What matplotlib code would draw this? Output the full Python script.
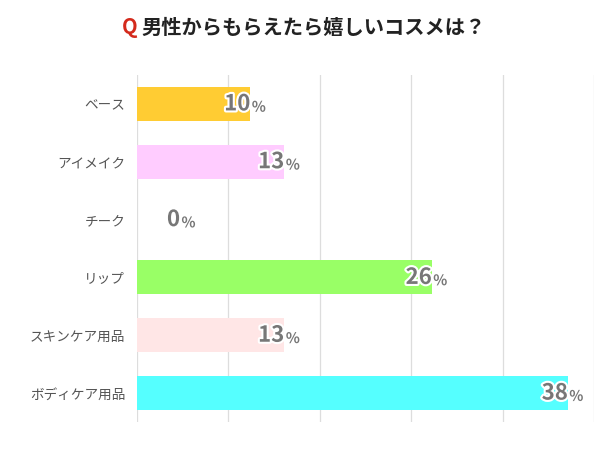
import matplotlib
matplotlib.use("Agg")
import matplotlib.pyplot as plt
import matplotlib.patheffects as pe

plt.rcParams["font.family"] = ["Noto Sans CJK JP", "DejaVu Sans"]

TITLE = "男性からもらえたら嬉しいコスメは？"
categories = ["ベース", "アイメイク", "チーク", "リップ", "スキンケア用品", "ボディケア用品"]
values = [10, 13, 0, 26, 13, 38]
colors = ["#ffcc33", "#ffccff", "#ffccff", "#99ff66", "#ffe6e6", "#55ffff"]

fig = plt.figure(figsize=(6.15, 4.62), dpi=100)
ax = fig.add_axes([137 / 615, 40 / 462, 457 / 615, 347 / 462])

y = range(len(categories))
ax.barh(y, values, height=0.59, color=colors, zorder=2)
ax.set_ylim(5.5, -0.5)
ax.set_xlim(0, 40.3)
ax.set_xticks([0, 8.06, 16.12, 24.18, 32.24, 40.3])
ax.xaxis.grid(True, color="#dddddd", linewidth=0.9, zorder=0)
ax.tick_params(axis="x", length=0, labelbottom=False)
ax.tick_params(axis="y", length=0, pad=8.5)
ax.set_yticks(list(y))
ax.set_yticklabels(categories, fontsize=9.8, color="#555555")
for s in ax.spines.values():
    s.set_visible(False)

stroke = [pe.withStroke(linewidth=3, foreground="white")]
for i, v in enumerate(values):
    xpos = max(v, 3.8)
    ax.annotate(str(v), (xpos, i), xytext=(0, 0), textcoords="offset points",
                ha="right", va="center", fontsize=16, fontweight="bold",
                color="#777777", path_effects=stroke, zorder=5)
    ax.annotate("%", (xpos, i), xytext=(1, -2), textcoords="offset points",
                ha="left", va="center", fontsize=10.5, fontweight="bold",
                color="#777777", path_effects=stroke, zorder=5)

fig.text(122 / 615, 1 - 27 / 462, "Q", color="#d42a1c", fontsize=14.6,
         fontweight="bold", ha="left", va="center")
fig.text(141 / 615, 1 - 27 / 462, TITLE, color="#222222", fontsize=14.6,
         fontweight="bold", ha="left", va="center")

fig.savefig("out.png", dpi=100)
